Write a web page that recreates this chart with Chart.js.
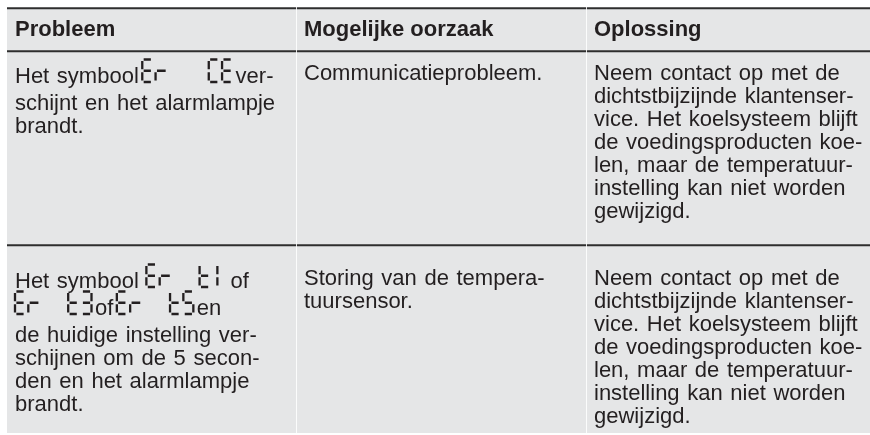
<!DOCTYPE html>
<html>
<head>
<title>Storingstabel</title>
<style>
  body { margin: 0; background: #ffffff; }
  #wrap { width: 870px; height: 435px; }
</style>
<script src="https://cdn.jsdelivr.net/npm/chart.js"></script>
</head>
<body>
<div id="wrap"><canvas id="table" width="870" height="435"></canvas></div>
<script>
// table content, one array per column; [..] = seven segment display text
const headers = ["Probleem", "Mogelijke oorzaak", "Oplossing"];
const problems = [
  ["Het symbool[Er   CE]ver-", "schijnt en het alarmlampje", "brandt."],
  ["Het symbool [Er  t1] of", "[Er  t3]of[Er  t5]en", "de huidige instelling ver-",
   "schijnen om de 5 secon-", "den en het alarmlampje", "brandt."]
];
const causes = [
  ["Communicatieprobleem."],
  ["Storing van de tempera-", "tuursensor."]
];
const solutions = [
  ["Neem contact op met de", "dichtstbijzijnde klantenser-", "vice. Het koelsysteem blijft",
   "de voedingsproducten koe-", "len, maar de temperatuur-", "instelling kan niet worden", "gewijzigd."],
  ["Neem contact op met de", "dichtstbijzijnde klantenser-", "vice. Het koelsysteem blijft",
   "de voedingsproducten koe-", "len, maar de temperatuur-", "instelling kan niet worden", "gewijzigd."]
];

// layout in page units (mapped through the chart scales)
const colEdges = [7, 296, 586, 870];
const rowEdges = [8, 51, 245, 433];
const rowBaseline = [28, 29, 40];
const padX = 8;
const lineStep = 23.0;
const glyphStep = 27;

const FONT = '"Liberation Sans", Arial, sans-serif';
const INK = '#231f20';

const segMap = { E: 'adefg', r: 'eg', C: 'adef', t: 'defg', '1': 'bc', '3': 'abcdg', '5': 'acdfg' };

function drawGlyph(ctx, ch, x, base, k) {
  if (ch === '1') x -= 5.5 * k;
  const w = 10 * k, h = 24.5 * k, g = 1.4 * k;
  const top = base - h + 1, mid = base - h / 2, bot = base - 1;
  const s = {
    a: [x + g, top, x + w - g, top],
    b: [x + w, top + g, x + w, mid - g],
    c: [x + w, mid + g, x + w, bot - g],
    d: [x + g, bot, x + w - g, bot],
    e: [x, mid + g, x, bot - g],
    f: [x, top + g, x, mid - g],
    g: [x + g, mid, x + w - g + (ch === 'r' ? 1.5 * k : 0), mid]
  };
  ctx.beginPath();
  for (const key of (segMap[ch] || '')) {
    const p = s[key];
    ctx.moveTo(p[0], p[1]);
    ctx.lineTo(p[2], p[3]);
  }
  ctx.stroke();
}

function drawLine(ctx, text, x, base, k) {
  const parts = text.split(/(\[[^\]]*\])/).filter(p => p.length);
  let cx = x;
  parts.forEach((p, i) => {
    if (p[0] === '[') {
      const chars = p.slice(1, -1);
      if (i > 0 && !parts[i - 1].endsWith(' ')) cx += 3.5 * k;
      for (let j = 0; j < chars.length; j++) {
        if (chars[j] !== ' ') drawGlyph(ctx, chars[j], cx + j * 13.3 * k, base, k);
      }
      cx += ((chars.length - 1) * 13.3 + 10) * k;
      if (i < parts.length - 1 && !parts[i + 1].startsWith(' ')) cx += 3.5 * k;
    } else {
      ctx.fillText(p, cx, base);
      cx += ctx.measureText(p).width;
    }
  });
}

const tablePlugin = {
  id: 'tablePlugin',
  afterDraw(chart) {
    const ctx = chart.ctx;
    const xs = chart.scales.x, ys = chart.scales.y;
    const X = v => xs.getPixelForValue(v);
    const Y = v => ys.getPixelForValue(v);
    const k = Y(1) - Y(0);

    ctx.save();
    // cell background
    ctx.fillStyle = '#e5e6e7';
    ctx.fillRect(X(colEdges[0]), Y(rowEdges[0]), X(colEdges[3]) - X(colEdges[0]), Y(rowEdges[3]) - Y(rowEdges[0]));

    // horizontal rules
    ctx.strokeStyle = '#2e2e2e';
    ctx.lineWidth = 2 * k;
    [0, 1, 2].forEach(r => {
      ctx.beginPath();
      ctx.moveTo(X(colEdges[0]), Y(rowEdges[r]) + 0.3);
      ctx.lineTo(X(colEdges[3]), Y(rowEdges[r]) + 0.3);
      ctx.stroke();
    });

    // white column separators
    ctx.strokeStyle = 'rgba(255,255,255,0.85)';
    ctx.lineWidth = 1;
    [1, 2].forEach(c => {
      ctx.beginPath();
      ctx.moveTo(Math.round(X(colEdges[c])) + 0.5, Y(rowEdges[0]) - 1);
      ctx.lineTo(Math.round(X(colEdges[c])) + 0.5, Y(rowEdges[3]));
      ctx.stroke();
    });

    // header
    ctx.fillStyle = INK;
    ctx.textBaseline = 'alphabetic';
    ctx.textAlign = 'left';
    ctx.font = 'bold ' + (22 * k) + 'px ' + FONT;
    headers.forEach((h, c) => {
      ctx.fillText(h, X(colEdges[c] + padX), Y(rowEdges[0] + rowBaseline[0]));
    });

    // body
    ctx.font = (22 * k) + 'px ' + FONT;
    if ('wordSpacing' in ctx) ctx.wordSpacing = (1.5 * k) + 'px';
    ctx.strokeStyle = INK;
    ctx.lineWidth = 2.3 * k;
    ctx.lineCap = 'butt';
    const cols = [problems, causes, solutions];
    for (let r = 0; r < problems.length; r++) {
      cols.forEach((col, c) => {
        const lines = col[r];
        let base = rowEdges[r + 1] + rowBaseline[r + 1];
        lines.forEach((ln, i) => {
          const glyph = ln.indexOf('[') >= 0;
          if (i === 0 && glyph) base += 3;
          if (i > 0) base += lines[i - 1].indexOf('[') >= 0 ? glyphStep : lineStep;
          drawLine(ctx, ln, X(colEdges[c] + padX), Y(base), k);
        });
      });
    }
    ctx.restore();
  }
};

new Chart(document.getElementById('table'), {
  type: 'scatter',
  data: { datasets: [] },
  options: {
    responsive: false,
    animation: false,
    events: [],
    layout: { padding: 0 },
    plugins: { legend: { display: false }, tooltip: { enabled: false } },
    scales: {
      x: { type: 'linear', min: 0, max: 870, display: false },
      y: { type: 'linear', min: 0, max: 435, reverse: true, display: false }
    }
  },
  plugins: [tablePlugin]
});
</script>
</body>
</html>
